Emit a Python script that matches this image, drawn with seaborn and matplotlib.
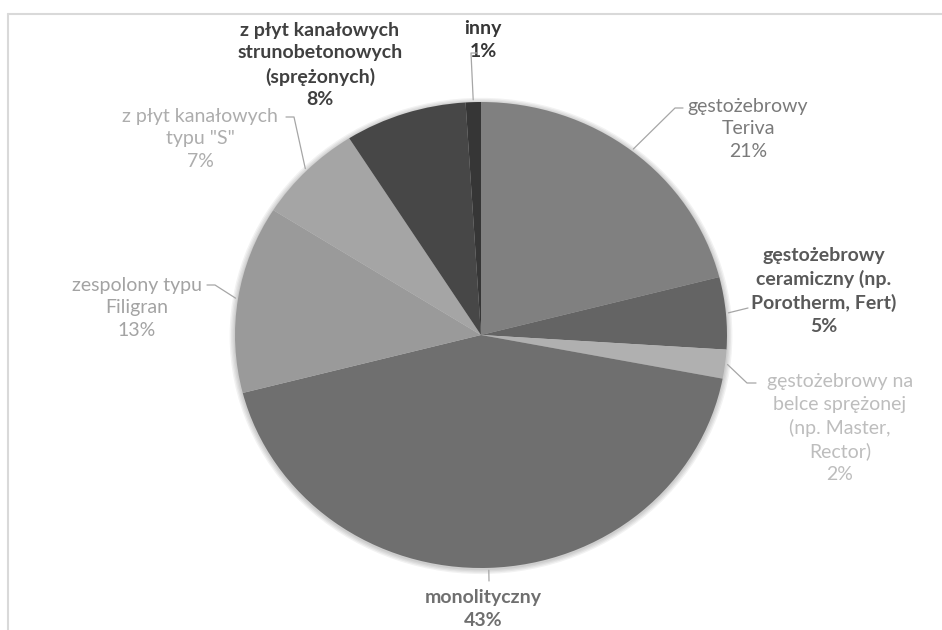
import matplotlib.pyplot as plt
from matplotlib.lines import Line2D
from matplotlib.patches import Ellipse
import numpy as np
import seaborn as sns

# values, clockwise from 12 o'clock
categories = [
    "gęstożebrowy\nTeriva",
    "gęstożebrowy\nceramiczny (np.\nPorotherm, Fert)",
    "gęstożebrowy na\nbelce sprężonej\n(np. Master,\nRector)",
    "monolityczny",
    "zespolony typu\nFiligran",
    "z płyt kanałowych\ntypu \"S\"",
    "z płyt kanałowych\nstrunobetonowych\n(sprężonych)",
    "inny",
]
shares = [21, 5, 2, 43, 13, 7, 8, 1]

slice_colors = ["#808080", "#646464", "#b0b0b0", "#6f6f6f",
                "#9a9a9a", "#a5a5a5", "#474747", "#363636"]
text_colors = ["#7a7a7a", "#595959", "#bdbdbd", "#6f6f6f",
               "#a3a3a3", "#adadad", "#404040", "#363636"]
bold = [False, True, False, True, False, False, True, True]

# label layout in pixels: text centre, leader elbow, leader end (None = no leader)
label_pos = [(748, 129), (824, 291), (840, 428), (483, 609),
             (137, 308), (200, 139), (320, 65), (483, 40)]
elbows = [(675, 108), (748, 308), (747, 383), (489, 581),
          (215, 285), (294, 117), None, (471, 53)]
ends = [(683, 108), (748, 308), (756, 383), (489, 581),
        (207, 285), (286, 117), None, (477, 53)]

W, H = 942, 630
CX, CY, RX, RY = 481, 335, 246, 233


def to_data(px, py):
    return (px - CX) / RX, (CY - py) / RY


sns.set_theme(style="white")
plt.rcParams['font.family'] = ['Lato', 'DejaVu Sans']

fig = plt.figure(figsize=(W / 100, H / 100), dpi=100)
ax = fig.add_axes([0, 0, 1, 1])

wedges, _ = ax.pie(shares, colors=slice_colors, startangle=90, counterclock=False,
                   wedgeprops=dict(linewidth=0, zorder=3))
ax.set_aspect('auto')
ax.set_xlim(-CX / RX, (W - CX) / RX)
ax.set_ylim((CY - H) / RY, CY / RY)
ax.axis('off')

# soft glow around the pie, like the Excel shadow
for k in range(1, 5):
    ax.add_patch(Ellipse((0, -0.004), 2 + k * 0.011, 2 + k * 0.011,
                         color="#000000", alpha=0.05, lw=0, zorder=1))

for i, w in enumerate(wedges):
    if elbows[i] is not None:
        mid = np.deg2rad((w.theta1 + w.theta2) / 2)
        sx, sy = np.cos(mid) * 1.01, np.sin(mid) * 1.01
        ex, ey = to_data(*elbows[i])
        fx, fy = to_data(*ends[i])
        ax.plot([sx, ex, fx], [sy, ey, fy], color="#a6a6a6", lw=0.9, zorder=4)
    txt = categories[i] + f"\n{shares[i]}%"
    tx, ty = to_data(*label_pos[i])
    ax.text(tx, ty, txt, ha="center", va="center", multialignment="center",
            fontsize=14, color=text_colors[i], linespacing=1.4,
            fontweight="bold" if bold[i] else "normal")

# light chart-area frame
fig.add_artist(Line2D([7.5 / W, 7.5 / W], [0, 1 - 13.5 / H], transform=fig.transFigure,
                      color="#d9d9d9", lw=1.5))
fig.add_artist(Line2D([7.5 / W, 1], [1 - 13.5 / H, 1 - 13.5 / H], transform=fig.transFigure,
                      color="#d9d9d9", lw=1.5))

fig.savefig("out.png", dpi=100)
